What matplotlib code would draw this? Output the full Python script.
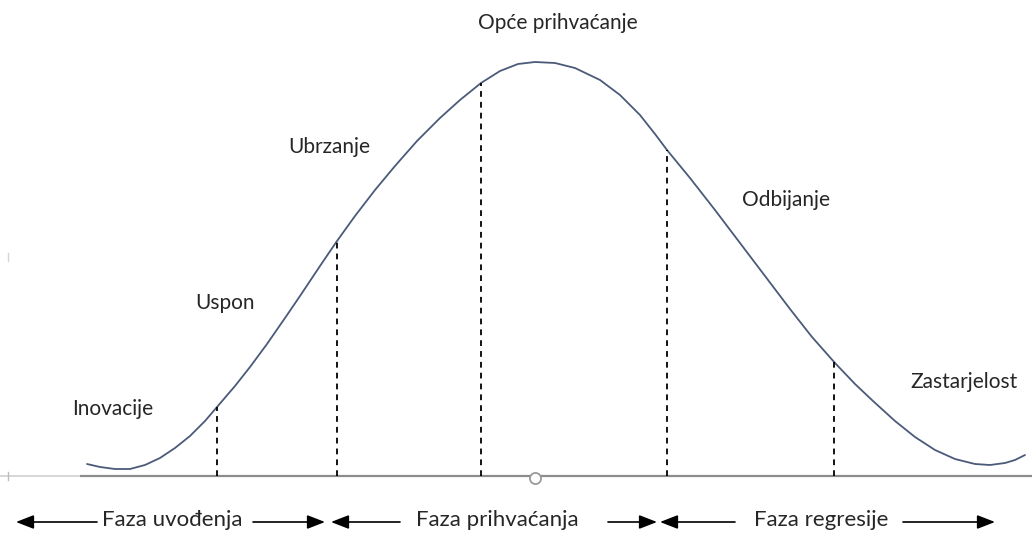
import numpy as np
import matplotlib
matplotlib.use("Agg")
import matplotlib.pyplot as plt

# product life cycle curve (time, adoption level above the baseline)
curve_x = [87, 100, 115, 130, 145, 160, 175, 190, 205, 217, 235, 250, 267, 285,
           300, 320, 337, 355, 375, 395, 417, 440, 460, 481, 500, 518, 535, 555,
           575, 600, 620, 640, 655, 667, 690, 715, 740, 765, 790, 812, 835, 855,
           873, 895, 915, 935, 955, 975, 990, 1005, 1015, 1025]
curve_y = [12, 9, 7, 7, 11, 18, 28, 40, 55, 69, 90, 109, 132, 158,
           180, 210, 235, 260, 286, 310, 335, 358, 376, 393, 405, 412, 414, 413,
           408, 396, 381, 361, 342, 326, 298, 266, 233, 200, 167, 139, 113, 92,
           75, 55, 39, 26, 17, 12, 11, 13, 16, 21]

# stage boundaries (dashed lines)
stage_x = [217, 337, 481, 667, 834]

# stage names and where they sit
stage_names = ["Inovacije", "Uspon", "Ubrzanje", "Opće prihvaćanje", "Odbijanje", "Zastarjelost"]
stage_label_x = [72, 195, 288, 558, 742, 910]
stage_label_y = [67, 173, 329, 453, 276, 94]
stage_label_ha = ["left", "left", "left", "center", "left", "left"]

# phases along the bottom
phase_names = ["Faza uvođenja", "Faza prihvaćanja", "Faza regresije"]
phase_text_x = [172, 497, 821]
phase_arrows = [(97, 16), (253, 325), (400, 331), (608, 657), (735, 660), (903, 995)]

fig = plt.figure(figsize=(10.32, 5.33), dpi=100)
ax = fig.add_axes([0, 0, 1, 1])
ax.set_xlim(0, 1032)
ax.set_ylim(476 - 533, 476)
ax.axis("off")

plt.rcParams["font.family"] = ["Lato", "DejaVu Sans"]
txt_color = "#262626"

# baseline
ax.plot([0, 80], [0, 0], color="#d0d0d0", lw=1.2, solid_capstyle="butt")
ax.plot([80, 1032], [0, 0], color="#8c8c8c", lw=1.6, solid_capstyle="butt")
ax.plot([8, 8], [-4, 4], color="#bdbdbd", lw=1)
ax.plot([8, 8], [215, 223], color="#d5d5d5", lw=1)
ax.plot([535], [-1.5], marker="o", ms=8, mfc="white", mec="#9a9a9a", mew=1.3)

# curve
ax.plot(curve_x, curve_y, color="#4b5a78", lw=1.3, solid_joinstyle="round",
        solid_capstyle="round")

# dashed stage boundaries
for sx in stage_x:
    top = np.interp(sx, curve_x, curve_y)
    ax.plot([sx, sx], [0, top], color="black", lw=1.3, linestyle=(0, (3.2, 2.8)))

for name, lx, ly, ha in zip(stage_names, stage_label_x, stage_label_y, stage_label_ha):
    ax.text(lx, ly, name, ha=ha, va="center", fontsize=15, color=txt_color)

for name, tx in zip(phase_names, phase_text_x):
    ax.text(tx, -44, name, ha="center", va="center", fontsize=16, color=txt_color)

for x0, x1 in phase_arrows:
    ax.annotate("", xy=(x1, -46), xytext=(x0, -46),
                arrowprops=dict(arrowstyle="-|>,head_length=0.9,head_width=0.35",
                                mutation_scale=12, color="black", lw=1.2,
                                shrinkA=0, shrinkB=0))

fig.savefig("out.png", dpi=100)
